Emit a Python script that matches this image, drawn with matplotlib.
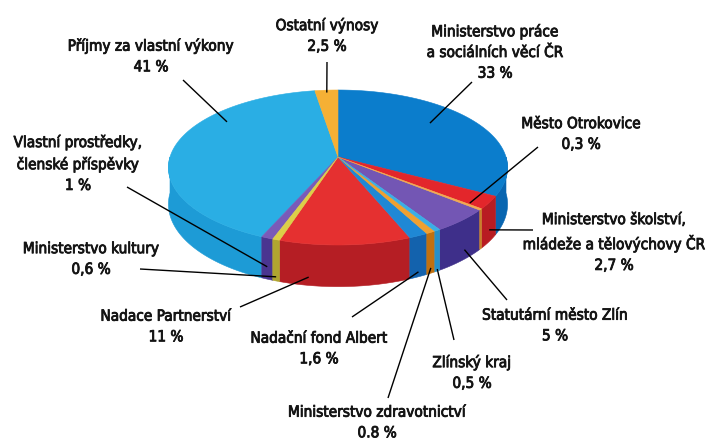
import numpy as np
import matplotlib
matplotlib.use("Agg")
import matplotlib.pyplot as plt
from matplotlib.patches import Polygon
from matplotlib import font_manager as fm
import matplotlib.patheffects as pe

# ---------------- data ----------------
labels = [
    "Ministerstvo práce\na sociálních věcí ČR",
    "Ministerstvo školství,\nmládeže a tělovýchovy ČR",
    "Město Otrokovice",
    "Statutární město Zlín",
    "Zlínský kraj",
    "Ministerstvo zdravotnictví",
    "Nadační fond Albert",
    "Nadace Partnerství",
    "Ministerstvo kultury",
    "Vlastní prostředky,\nčlenské příspěvky",
    "Příjmy za vlastní výkony",
    "Ostatní výnosy",
]
values = [33, 2.7, 0.3, 5, 0.5, 0.8, 1.6, 11, 0.6, 1, 41, 2.5]
value_texts = ["33 %", "2,7 %", "0,3 %", "5 %", "0,5 %", "0.8 %",
               "1,6 %", "11 %", "0,6 %", "1 %", "41 %", "2,5 %"]

# ---------------- styles ----------------
top_colors = ["#0b7dcc", "#e3262b", "#f2aa50", "#7356b4", "#3aaee5", "#f0a030",
              "#1f88d5", "#e53030", "#dccf48", "#7a5ab8", "#2aaee4", "#f5b035"]
side_colors = ["#0865b0", "#b81c22", "#c8802a", "#3e2f8a", "#2590c8", "#c07010",
               "#1362ad", "#b51e24", "#b0a530", "#4a3590", "#1d9bd6", "#c88a20"]

# layout (pixel space)
CX, CY = 338.0, 157.0
RX, A, B = 168.0, 76.08, -0.1355
DEPTH = 36.0

# leader anchors on the slice: (fraction along slice, radius fraction, depth fraction)
anchors = [(0.5, 0.665, -0.27), (0.5, 1.0, 0.70), (0.5, 0.93, -0.06), (0.5, 1.02, 0.69),
           (0.5, 1.0, 0.95), (0.5, 1.0, 0.87), (0.5, 1.0, 0.88), (0.774, 1.0, 0.80),
           (0.5, 1.0, 0.90), (0.5, 1.0, 0.70), (0.688, 0.86, 0.0), (0.5, 0.96, 0.0)]
# leader outer ends and label block centres
leader_ends = [(472, 82), (533, 230), (538, 147), (507, 300), (454, 340), (388, 398),
               (352, 317), (240, 307), (140, 269), (127, 187), (183, 80), (327, 62)]
label_pos = [(495, 52), (614, 242.5), (581, 134), (555, 325.5), (472, 372.5), (377, 422.5),
             (319, 348.5), (166, 326.5), (91, 259), (78, 163.5), (151, 56), (327, 35.5)]

# ---------------- font ----------------
names = {f.name for f in fm.fontManager.ttflist}
if "Liberation Sans Narrow" in names:
    fprops = dict(family="Liberation Sans Narrow")
    fsize = 12.8
else:
    fprops = dict(family="DejaVu Sans", stretch="condensed")
    fsize = 11.0
line_px = 22.5
linespacing = line_px / (fsize * 100 / 72)
text_color = "#141414"


def proj(r, theta_deg):
    t = np.radians(theta_deg)
    X = r * np.cos(t)
    Z = -r * np.sin(t)
    den = 1 + B * Z
    return CX + RX * X / den, CY + A * Z / den, DEPTH / den


fig = plt.figure(figsize=(7.07, 4.40), dpi=100)
ax = fig.add_axes([0, 0, 1, 1])
ax.set_xlim(0, 707)
ax.set_ylim(440, 0)
ax.axis("off")

total = float(sum(values))
cum = np.concatenate([[0], np.cumsum(values)])
starts = 90 - 360 * cum[:-1] / total
ends = 90 - 360 * cum[1:] / total

order = np.argsort(values)[::-1]  # draw big slices first, small on top

# side walls
for i in order:
    hi = min(starts[i], 0.0)
    lo = max(ends[i], -180.0)
    if hi <= lo:
        continue
    n = max(3, int((hi - lo) / 0.4))
    th = np.linspace(hi, lo, n)
    x, y, d = proj(1.0, th)
    pts = np.column_stack([np.concatenate([x, x[::-1]]),
                           np.concatenate([y, (y + d)[::-1]])])
    ax.add_patch(Polygon(pts, closed=True, facecolor=side_colors[i],
                         edgecolor=side_colors[i], lw=0.4, zorder=1))

# top faces
for i in order:
    n = max(3, int((starts[i] - ends[i]) / 0.4))
    th = np.linspace(starts[i], ends[i], n)
    x, y, _ = proj(1.0, th)
    pts = np.column_stack([np.concatenate([[CX], x]), np.concatenate([[CY], y])])
    ax.add_patch(Polygon(pts, closed=True, facecolor=top_colors[i],
                         edgecolor=top_colors[i], lw=0.4, zorder=2))

# leaders and labels
for i in range(len(values)):
    t, r, h = anchors[i]
    th = starts[i] + t * (ends[i] - starts[i])
    x0, y0, d = proj(r, th)
    y0 = y0 + h * d
    x1, y1 = leader_ends[i]
    ax.plot([x0, x1], [y0, y1], color="black", lw=1.0, zorder=5,
            solid_capstyle="butt")
    lx, ly = label_pos[i]
    ax.text(lx, ly, labels[i] + "\n" + value_texts[i], ha="center", va="center",
            ma="center", fontsize=fsize, color=text_color, linespacing=linespacing,
            zorder=6, path_effects=[pe.withStroke(linewidth=0.6, foreground=text_color)],
            **fprops)

fig.savefig("out.png", dpi=100, facecolor="white")
